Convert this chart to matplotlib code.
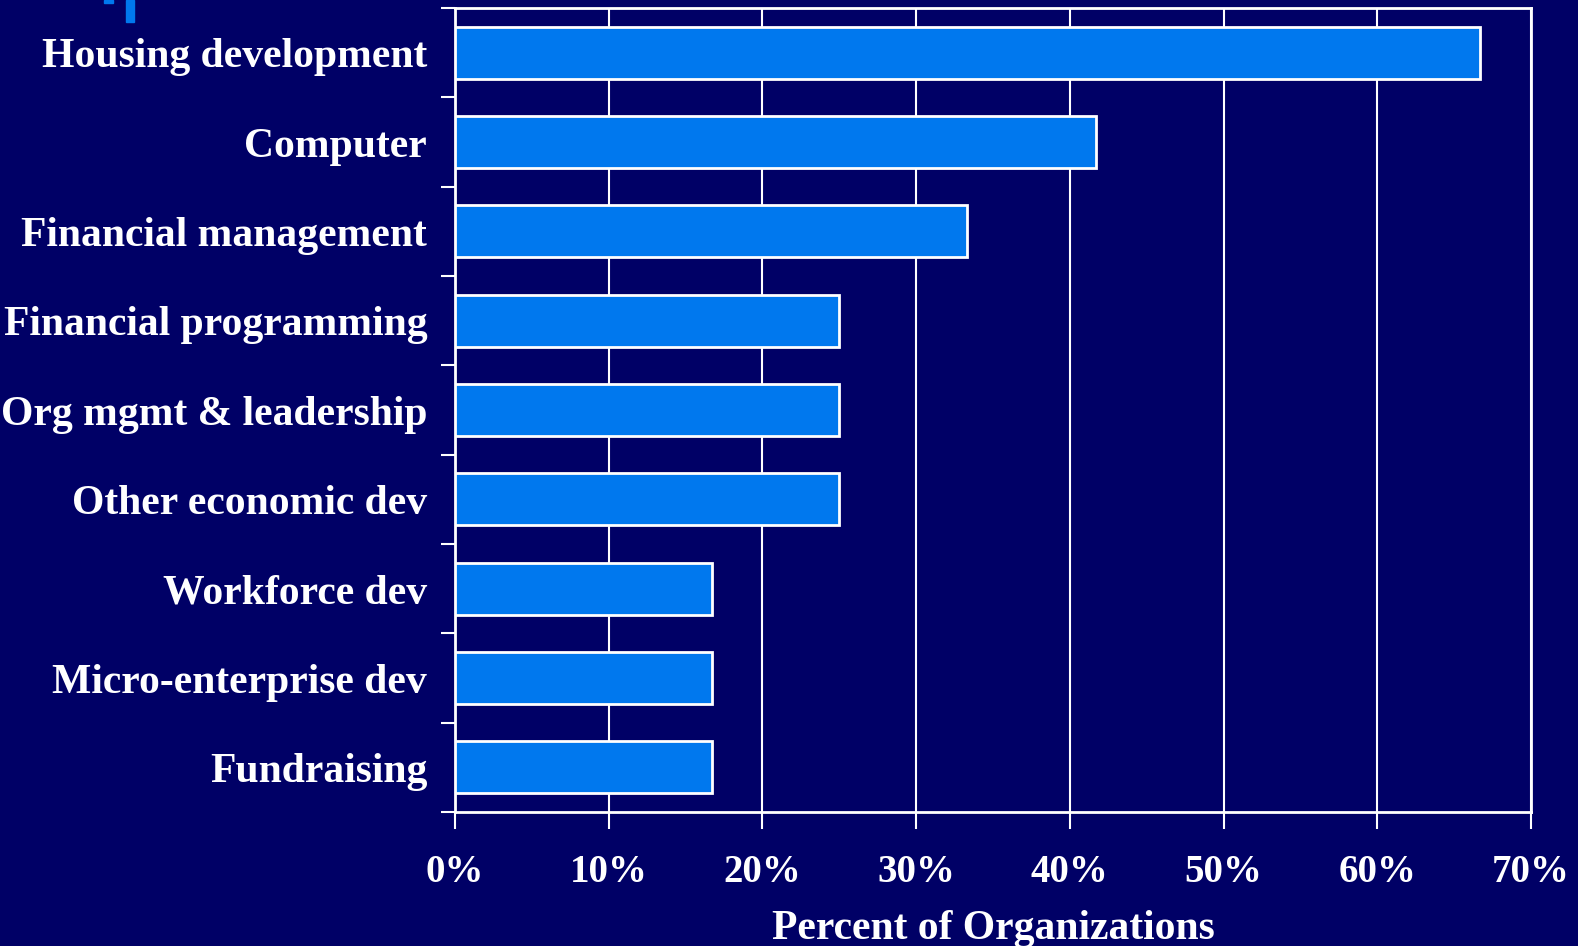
import numpy as np
import matplotlib.pyplot as plt
from matplotlib.patches import Rectangle
from matplotlib.ticker import FuncFormatter

categories = [
    "Housing development",
    "Computer",
    "Financial management",
    "Financial programming",
    "Org mgmt & leadership",
    "Other economic dev",
    "Workforce dev",
    "Micro-enterprise dev",
    "Fundraising",
]
percent = [66.7, 41.7, 33.3, 25.0, 25.0, 25.0, 16.7, 16.7, 16.7]
xticks = [0, 10, 20, 30, 40, 50, 60, 70]

BG = "#000066"
BAR = "#0078EE"

plt.rcParams["font.family"] = ["Liberation Serif", "DejaVu Serif"]
plt.rcParams["font.weight"] = "bold"

fig = plt.figure(figsize=(15.78, 9.46), dpi=100, facecolor=BG)
ax = fig.add_axes([455 / 1578, 1 - 812 / 946, (1531 - 455) / 1578, (812 - 8) / 946])
ax.set_facecolor(BG)

y = np.arange(len(categories))
ax.barh(y, percent, height=0.58, color=BAR, edgecolor="white", linewidth=2, zorder=3)

ax.set_xlim(0, 70)
ax.set_ylim(len(categories) - 0.5, -0.5)

ax.set_xticks(xticks)
ax.xaxis.set_major_formatter(FuncFormatter(lambda v, p: f"{v:.0f}%"))
ax.tick_params(axis="x", colors="white", length=12, width=1.5, pad=18, labelsize=28)
ax.grid(axis="x", color="white", linewidth=1.5, zorder=1)

ax.set_yticks(y)
ax.set_yticklabels(categories)
ax.set_yticks(np.arange(-0.5, len(categories)), minor=True)
ax.tick_params(axis="y", which="major", length=0, pad=20, labelsize=30, colors="white")
ax.tick_params(axis="y", which="minor", length=10, width=1.5, color="white")

for s in ax.spines.values():
    s.set_color("white")
    s.set_linewidth(2)

ax.set_xlabel("Percent of Organizations", color="white", fontsize=30,
              fontweight="bold", labelpad=14)

# bullet fragment at top-left of the slide
fig.patches.append(Rectangle((126 / 1578, 1 - 22 / 946), 8 / 1578, 22 / 946,
                             transform=fig.transFigure, color=BAR))
fig.patches.append(Rectangle((104 / 1578, 1 - 3 / 946), 9 / 1578, 3 / 946,
                             transform=fig.transFigure, color=BAR))

fig.savefig("out.png", dpi=100, facecolor=BG)
